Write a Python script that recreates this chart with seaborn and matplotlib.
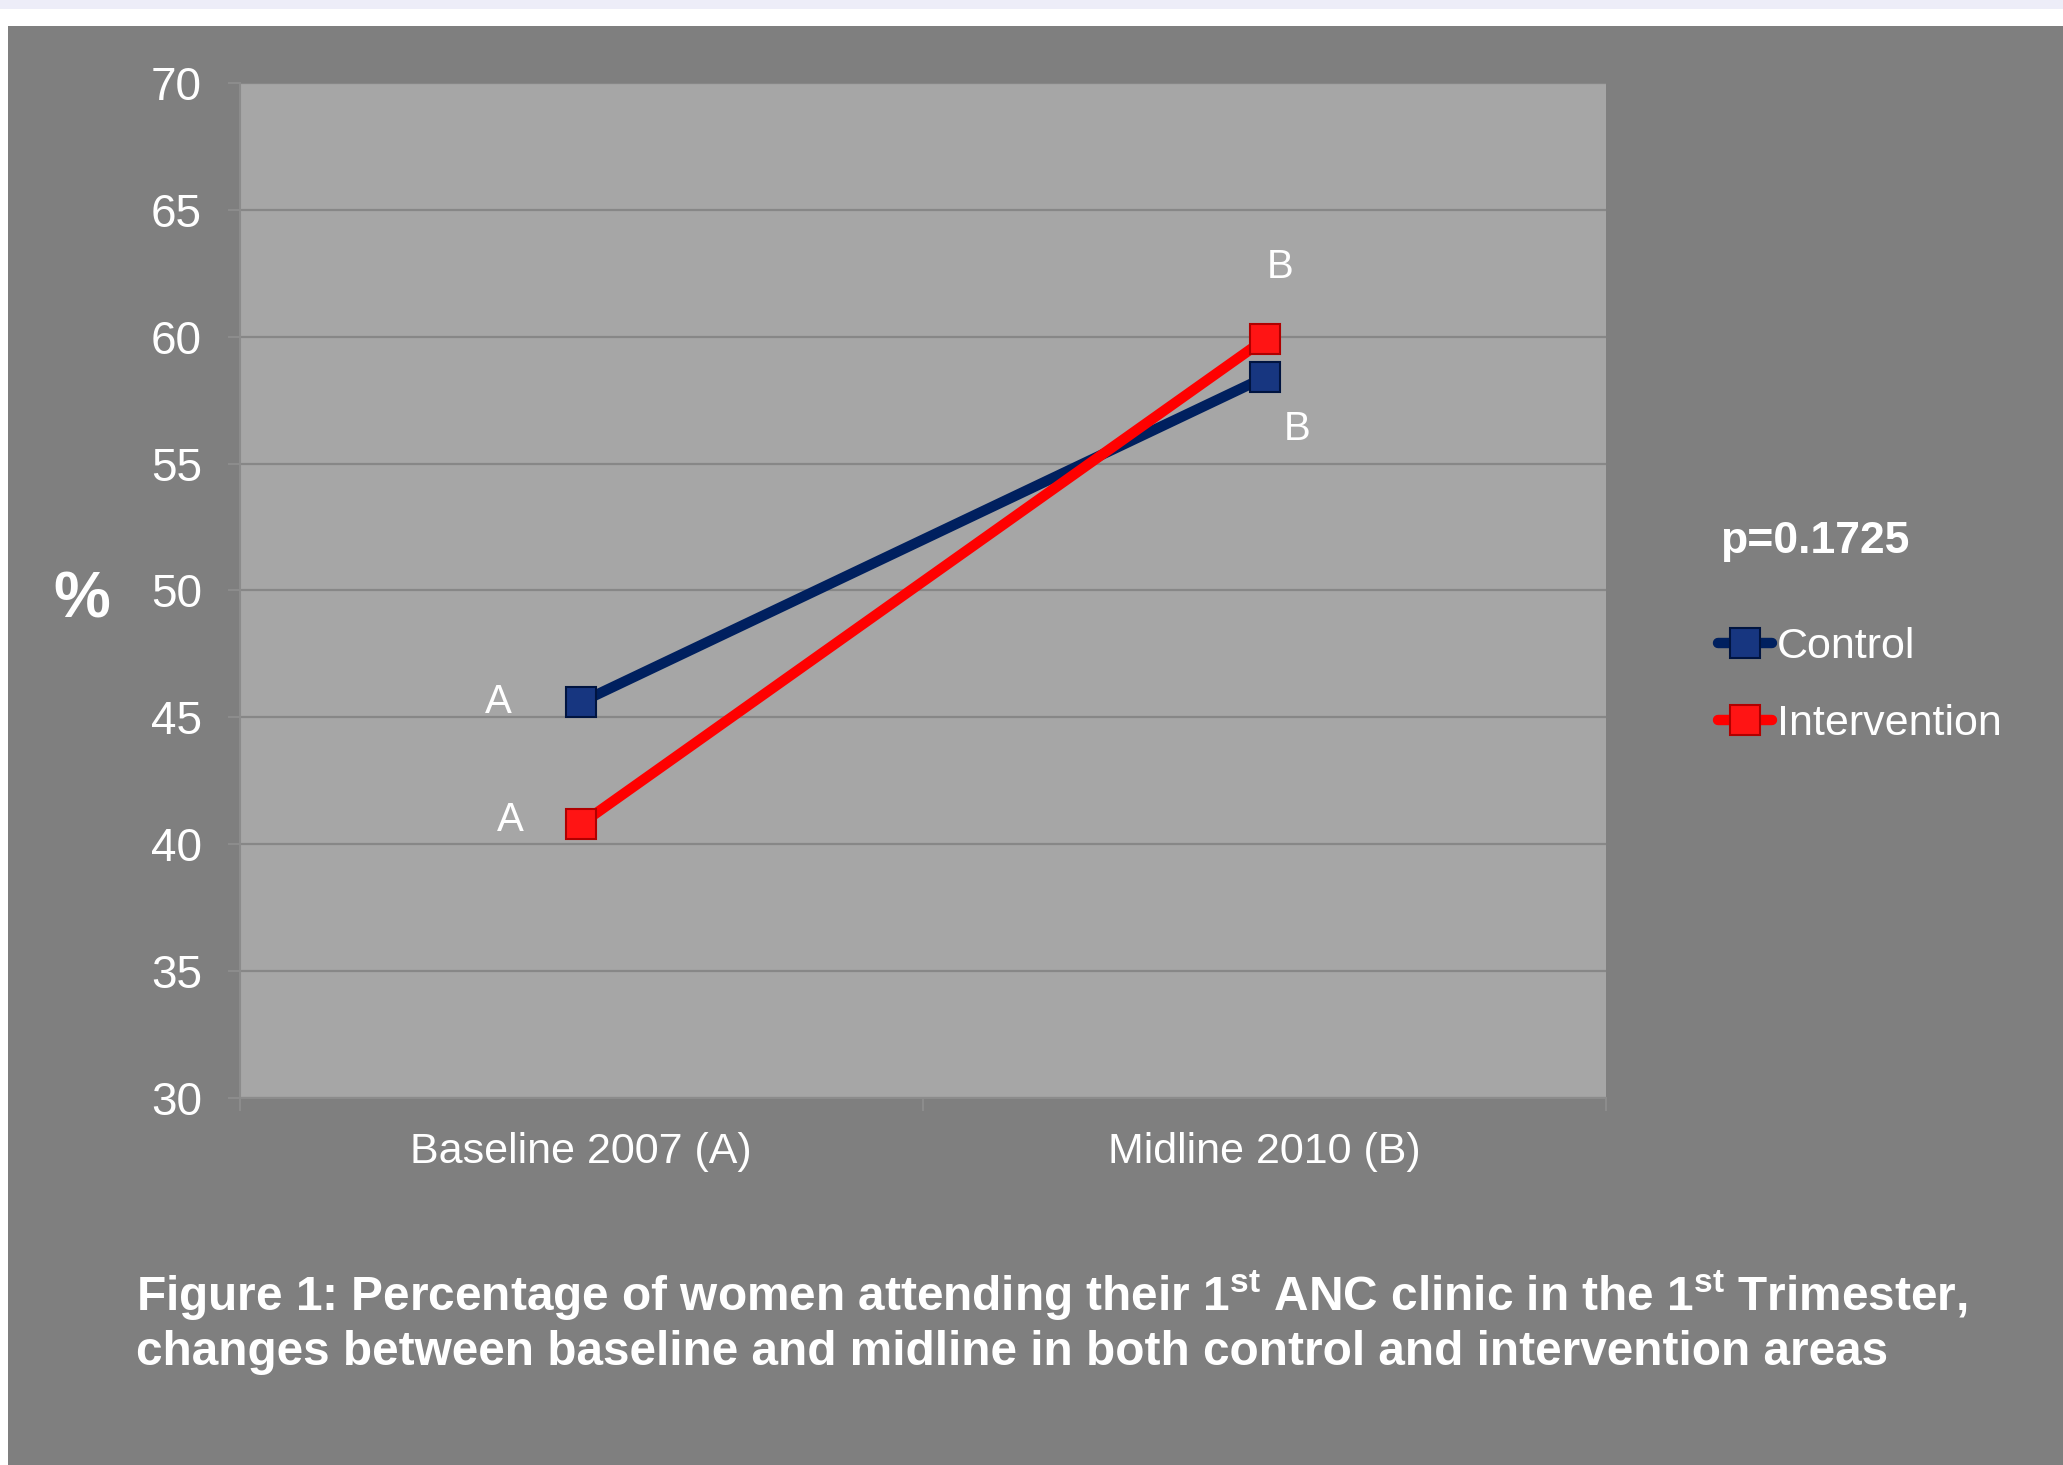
import numpy as np
import pandas as pd
import matplotlib
matplotlib.use('Agg')
import matplotlib.pyplot as plt
import seaborn as sns
from matplotlib.patches import Rectangle

# Dados (% de mulheres na 1a consulta de pré-natal no 1o trimestre)
periodos = ['Baseline 2007 (A)', 'Midline 2010 (B)']
grupos = ['Control', 'Intervention']
controle = [45.6, 58.4]
intervencao = [40.8, 59.9]
letras_controle = ['A', 'B']
letras_intervencao = ['A', 'B']
y_ticks = [30, 35, 40, 45, 50, 55, 60, 65, 70]
p_valor = 'p=0.1725'
legenda_figura = ['Figure 1: Percentage of women attending their 1$^{st}$ ANC clinic in the 1$^{st}$ Trimester,',
                  'changes between baseline and midline in both control and intervention areas']

df = pd.DataFrame({
    'pos': list(range(len(periodos))) * 2,
    'pct': controle + intervencao,
    'grupo': [grupos[0]] * len(controle) + [grupos[1]] * len(intervencao),
})

sns.set_theme(style='white')
plt.rcParams['font.family'] = ['Liberation Sans', 'DejaVu Sans']
plt.rcParams['mathtext.fontset'] = 'custom'
plt.rcParams['mathtext.it'] = 'Liberation Sans:bold'
plt.rcParams['mathtext.rm'] = 'Liberation Sans:bold'
plt.rcParams['mathtext.bf'] = 'Liberation Sans:bold'

fig = plt.figure(figsize=(20.63, 14.65), dpi=100, facecolor='white')
# painel cinza de fundo
fig.patches.append(Rectangle((8 / 2063, 0), 1, (1465 - 26) / 1465, transform=fig.transFigure,
                             facecolor='#7f7f7f', edgecolor='none', zorder=-2))
fig.patches.append(Rectangle((0, 1 - 9 / 1465), 1, 9 / 1465, transform=fig.transFigure,
                             facecolor='#ededf8', edgecolor='none', zorder=-2))

ax = fig.add_axes([0.1161, 0.2507, 0.6626, 0.6926])
ax.set_facecolor('#a6a6a6')

cores = {'Control': '#00205f', 'Intervention': '#ff0000'}
sns.lineplot(data=df, x='pos', y='pct', hue='grupo', style='grupo', markers=['s', 's'],
             dashes=False, palette=cores, linewidth=7.5, markersize=21, legend=False, ax=ax)

# marcadores com borda mais escura
estilo_marcador = {'Control': ('#173680', '#001440'), 'Intervention': ('#ff1414', '#b00000')}
for linha, g in zip(ax.lines, grupos):
    linha.set_markerfacecolor(estilo_marcador[g][0])
    linha.set_markeredgecolor(estilo_marcador[g][1])
    linha.set_markeredgewidth(1.5)
    linha.set_solid_capstyle('round')

# letras A / B
desloc = {'Control': [(-60, 0), (23, -37)], 'Intervention': [(-51, 3), (11, 52)]}
for g, vals, letras in [('Control', controle, letras_controle), ('Intervention', intervencao, letras_intervencao)]:
    for i, (v, l) in enumerate(zip(vals, letras)):
        ax.annotate(l, (i, v), xytext=desloc[g][i], textcoords='offset points',
                    ha='center', va='center', color='white', fontsize=29)

ax.set_ylim(30, 70)
ax.set_yticks(y_ticks)
ax.set_xlim(-0.5, len(periodos) - 0.5)
ax.set_xticks(range(len(periodos)))
ax.set_xticklabels(periodos)
ax.set_xticks([-0.5, 0.5, 1.5], minor=True)
ax.set_xlabel('')
ax.set_ylabel('')

ax.grid(axis='y', color='#878787', linewidth=1.6)
ax.grid(axis='x', visible=False)
for s in ['top', 'right']:
    ax.spines[s].set_visible(False)
for s in ['left', 'bottom']:
    ax.spines[s].set_color('#8c8c8c')
    ax.spines[s].set_linewidth(1.5)

ax.tick_params(axis='y', which='major', labelsize=33, labelcolor='white', length=9,
               width=1.5, color='#8c8c8c', pad=18, left=True)
ax.tick_params(axis='x', which='major', labelsize=31, labelcolor='white', length=0, pad=25)
ax.tick_params(axis='x', which='minor', length=9, width=1.5, color='#8c8c8c', bottom=True)

fig.text(0.0396, 0.5898, '%', fontsize=46, fontweight='bold', color='white', ha='center', va='center')
fig.text(0.8337, 0.6307, p_valor, fontsize=32, fontweight='bold', color='white', ha='left', va='center')

fig.legend(handles=ax.lines[:2], labels=grupos, loc='center left', bbox_to_anchor=(0.833, 0.532),
           frameon=False, fontsize=31, labelcolor='white', handlelength=1.25, handletextpad=0.1,
           labelspacing=0.85, borderpad=0, borderaxespad=0)

fig.text(0.0657, 0.1154, legenda_figura[0], fontsize=34.4, fontweight='bold', color='white', ha='left', va='center')
fig.text(0.0657, 0.0771, legenda_figura[1], fontsize=34.4, fontweight='bold', color='white', ha='left', va='center')

fig.savefig('out.png', dpi=100, facecolor=fig.get_facecolor())
